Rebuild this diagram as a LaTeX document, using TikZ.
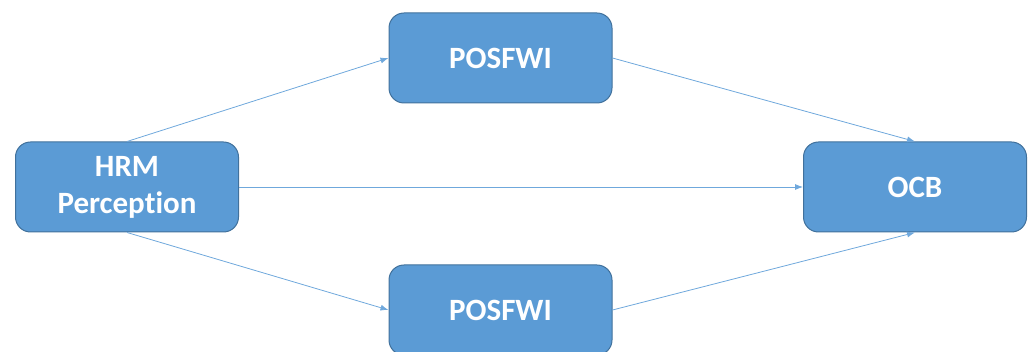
\documentclass[tikz,border=0pt]{standalone}
\usepackage{fontspec}
\setmainfont[Ligatures=NoCommon]{Carlito}
\usetikzlibrary{arrows.meta}
\definecolor{boxfill}{HTML}{5B9BD5}
\definecolor{boxedge}{HTML}{41719C}
\definecolor{linkcol}{HTML}{6FA8DC}
\begin{document}
\begin{tikzpicture}[x=1pt,y=-1pt,
  box/.style={draw=boxedge, line width=1pt, fill=boxfill, rounded corners=15pt,
    minimum width=223pt, minimum height=90pt, inner sep=0pt,
    text=white, font=\fontsize{31}{37}\selectfont\bfseries, align=center},
  link/.style={draw=linkcol, line width=0.8pt, -{Latex[length=8pt,width=6pt]}}]
\useasboundingbox (0,0) rectangle (1029,352);
\node[box] (hrm) at (127,187) {\raisebox{-2pt}{HRM}\\\raisebox{-2pt}{Perception}};
\node[box] (p1) at (500.5,58) {POSFWI};
\node[box] (p2) at (500.5,310) {POSFWI};
\node[box] (ocb) at (915,187) {OCB};
\draw[link] (hrm.north) -- (p1.west);
\draw[link] (p1.east) -- (ocb.north);
\draw[link] (hrm.east) -- (ocb.west);
\draw[link] (hrm.south) -- (p2.west);
\draw[link] (p2.east) -- (ocb.south);
\end{tikzpicture}
\end{document}
